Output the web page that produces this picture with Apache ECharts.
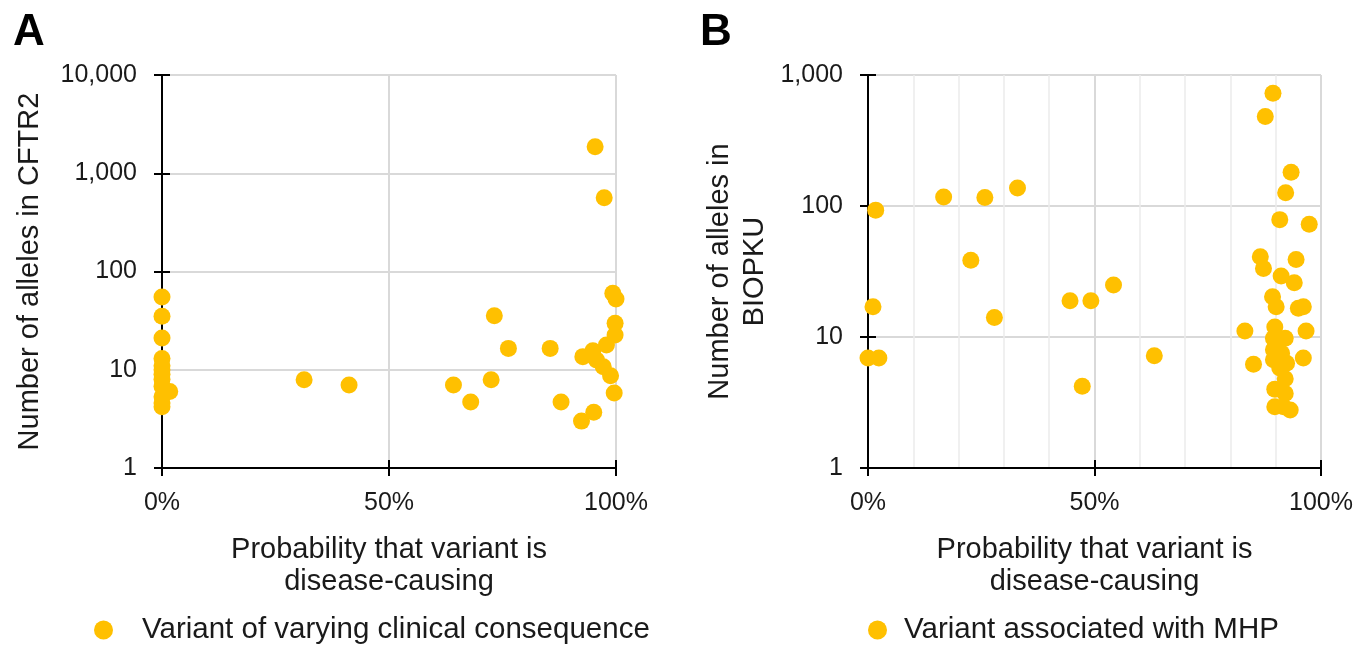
<!DOCTYPE html>
<html>
<head>
<meta charset="utf-8">
<script src="https://cdn.jsdelivr.net/npm/echarts@6/dist/echarts.min.js"></script>
<style>html,body{margin:0;padding:0;background:#fff}#c{width:1371px;height:646px}</style>
</head>
<body>
<div id="c"></div>
<script>
// Panel A: [probability %, number of alleles in CFTR2]
var dataA = [
  [0,55],[0,35],[0,21],[0,13],[0,11],[0,10],[0,9],[0,8],[0,6.8],[1.7,6.0],[0,5.3],[0,4.6],[0,4.2],
  [31.3,7.9],[41.2,7.0],[64.2,7.0],[68.0,4.7],[72.5,7.9],[73.2,35.5],[76.3,16.5],[85.5,16.5],
  [87.9,4.7],[92.4,3.0],[95.1,3.7],[92.7,13.6],[94.9,15.6],[95.7,12.6],[97.2,10.7],[97.9,17.9],
  [98.8,8.7],[99.8,22.6],[99.8,29.7],[99.3,60],[100,52.5],[99.6,5.8],[95.4,1862],[97.4,564]
];
// Panel B: [probability %, number of alleles in BIOPKU]
var dataB = [
  [1.7,93],[1.1,17],[0,6.9],[2.4,6.9],[16.7,117],[25.8,116],[33.0,137],[22.7,38.5],[27.9,14.1],
  [44.6,18.9],[49.2,18.9],[54.2,24.9],[47.3,4.2],[63.2,7.2],[83.2,11.1],[85.1,6.2],[86.6,41],
  [87.3,33.3],[87.7,482],[89.4,725],[93.4,181],[92.2,126],[90.9,78.7],[97.4,72.5],[94.5,39],
  [91.2,29.2],[94.1,26],[89.3,20.3],[90.1,17],[95.0,16.6],[96.1,17],[96.7,11.1],[96.1,6.9],
  [89.8,11.9],[92.1,9.8],[89.5,9.8],[89.5,8.0],[91.3,7.5],[89.5,6.7],[92.4,6.3],[90.9,5.8],
  [92.1,4.8],[89.8,4.0],[92.1,3.7],[89.8,2.94],[91.7,2.94],[93.2,2.77],[90.5,8.8],[91.0,6.9]
];
var xTicks = ['0%','50%','100%'];
var nameA = 'Variant of varying clinical consequence';
var nameB = 'Variant associated with MHP';

var FONT = 'Liberation Sans, Arial, sans-serif';
var TXT = '#1a1a1a';
var YELLOW = '#FFC000';
function fmtNum(v){ return Math.round(v).toLocaleString('en-US'); }
function fmtPct(v){ return v + '%'; }

function xAxisMain(grid, minor){
  return {
    type:'value', gridIndex:grid, min:0, max:100, interval:50, position:'bottom',
    axisLine:{show:true, onZero:false, lineStyle:{color:'#000', width:2}},
    axisTick:{show:true, inside:false, length:8, lineStyle:{color:'#000', width:2}},
    axisLabel:{formatter:fmtPct, fontSize:25, color:TXT, fontFamily:FONT, margin:23},
    splitLine:{show:true, lineStyle:{color:'#d9d9d9', width:2}},
    minorTick:{show:false, splitNumber:5},
    minorSplitLine:{show:minor, lineStyle:{color:'#ececec', width:1.5}},
    name:'Probability that variant is\ndisease-causing', nameLocation:'middle', nameGap:66,
    nameTextStyle:{fontSize:29, color:TXT, fontFamily:FONT, lineHeight:32}
  };
}
function xAxisOverlay(grid){
  return {
    type:'value', gridIndex:grid, min:0, max:100, interval:50, position:'bottom', offset:0,
    axisLine:{show:false, onZero:false}, axisLabel:{show:false}, splitLine:{show:false},
    axisTick:{show:true, inside:true, length:8, lineStyle:{color:'#000', width:2}}
  };
}
function yAxisMain(grid, max, name, gap, lh){
  return {
    type:'log', logBase:10, gridIndex:grid, min:1, max:max, position:'left',
    axisLine:{show:true, onZero:false, lineStyle:{color:'#000', width:2}},
    axisTick:{show:true, inside:false, length:8, lineStyle:{color:'#000', width:2}},
    axisLabel:{formatter:fmtNum, fontSize:25, color:TXT, fontFamily:FONT, margin:25},
    splitLine:{show:true, lineStyle:{color:'#d9d9d9', width:2}},
    minorTick:{show:false}, minorSplitLine:{show:false},
    name:name, nameLocation:'middle', nameGap:gap, nameRotate:90,
    nameTextStyle:{fontSize:29, color:TXT, fontFamily:FONT, lineHeight:lh}
  };
}
function yAxisOverlay(grid, max){
  return {
    type:'log', logBase:10, gridIndex:grid, min:1, max:max, position:'left', offset:0,
    axisLine:{show:false, onZero:false}, axisLabel:{show:false}, splitLine:{show:false},
    minorTick:{show:false},
    axisTick:{show:true, inside:true, length:8, lineStyle:{color:'#000', width:2}}
  };
}

var chart = echarts.init(document.getElementById('c'), null, {renderer:'canvas'});
chart.setOption({
  backgroundColor:'#fff',
  animation:false,
  title:[
    {text:'A', left:8, top:6, textStyle:{fontSize:44, fontWeight:'bold', color:'#000', fontFamily:FONT}},
    {text:'B', left:695, top:6, textStyle:{fontSize:44, fontWeight:'bold', color:'#000', fontFamily:FONT}}
  ],
  grid:[
    {left:162, top:75, width:454, height:393},
    {left:868, top:75, width:453, height:393}
  ],
  xAxis:[xAxisMain(0,false), xAxisMain(1,true), xAxisOverlay(0), xAxisOverlay(1)],
  yAxis:[
    yAxisMain(0, 10000, 'Number of alleles in CFTR2', 115, 34),
    yAxisMain(1, 1000, 'Number of alleles in\nBIOPKU', 96, 35),
    yAxisOverlay(0, 10000), yAxisOverlay(1, 1000)
  ],
  legend:[
    {data:[nameA], left:89, top:610, icon:'circle', itemWidth:19, itemHeight:19,
     textStyle:{fontSize:29.5, color:TXT, fontFamily:FONT, padding:[0,0,0,24]}},
    {data:[nameB], left:863, top:610, icon:'circle', itemWidth:19, itemHeight:19,
     textStyle:{fontSize:29.5, color:TXT, fontFamily:FONT, padding:[0,0,0,12]}}
  ],
  series:[
    {name:nameA, type:'scatter', xAxisIndex:0, yAxisIndex:0, data:dataA, symbolSize:17,
     itemStyle:{color:YELLOW, opacity:1}},
    {name:nameB, type:'scatter', xAxisIndex:1, yAxisIndex:1, data:dataB, symbolSize:17,
     itemStyle:{color:YELLOW, opacity:1}}
  ]
});
</script>
</body>
</html>
